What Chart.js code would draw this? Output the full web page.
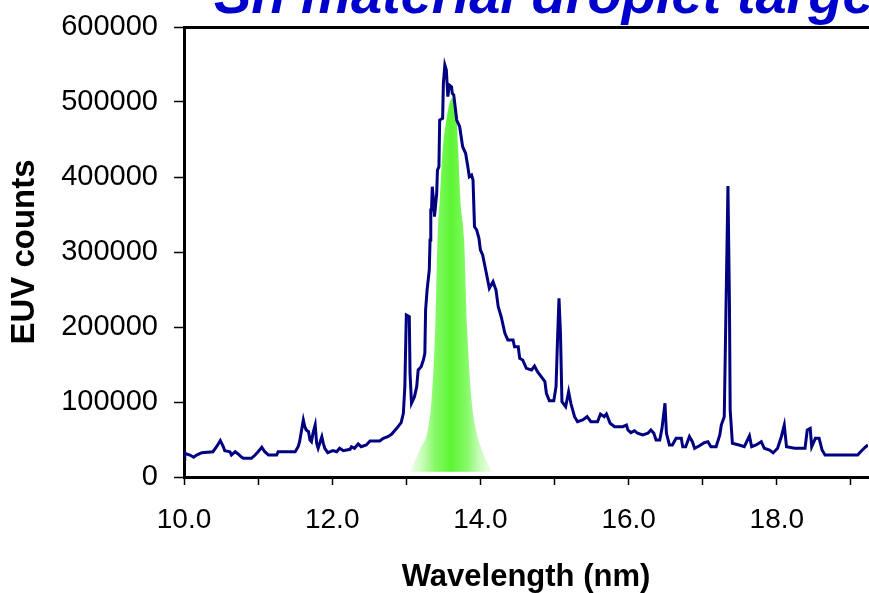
<!DOCTYPE html>
<html>
<head>
<meta charset="utf-8">
<script src="https://cdn.jsdelivr.net/npm/chart.js@4.4.0/dist/chart.umd.min.js"></script>
<style>
  html, body { margin: 0; padding: 0; background: #fff; overflow: hidden; }
  #wrap { width: 869px; height: 593px; position: relative; }
</style>
</head>
<body>
<div id="wrap"><canvas id="chart" width="869" height="593"></canvas></div>
<script>
const chartTitle = 'Sn material droplet target';
const xTitle = 'Wavelength (nm)';
const yTitle = 'EUV counts';

// EUV spectrum (nm, counts)
const wavelength = [
  10.00, 10.01, 10.08, 10.13, 10.17, 10.24, 10.39, 10.44, 10.49, 10.53,
  10.55, 10.62, 10.64, 10.69, 10.73, 10.78, 10.80, 10.91, 10.96, 11.00,
  11.05, 11.09, 11.14, 11.25, 11.27, 11.50, 11.54, 11.56, 11.61, 11.63,
  11.65, 11.68, 11.70, 11.72, 11.74, 11.77, 11.79, 11.81, 11.86, 11.88,
  11.90, 11.94, 12.01, 12.06, 12.10, 12.15, 12.24, 12.26, 12.30, 12.35,
  12.39, 12.46, 12.51, 12.64, 12.69, 12.75, 12.80, 12.87, 12.93, 12.96,
  12.98, 13.00, 13.04, 13.05, 13.07, 13.11, 13.14, 13.16, 13.20, 13.23,
  13.25, 13.26, 13.28, 13.31, 13.32, 13.33, 13.34, 13.35, 13.37, 13.38,
  13.41, 13.42, 13.44, 13.45, 13.49, 13.50, 13.52, 13.54, 13.56, 13.58,
  13.61, 13.62, 13.64, 13.68, 13.72, 13.76, 13.80, 13.83, 13.85, 13.88,
  13.90, 13.92, 13.95, 13.98, 14.00, 14.03, 14.08, 14.12, 14.17, 14.21,
  14.24, 14.28, 14.33, 14.37, 14.44, 14.46, 14.51, 14.53, 14.57, 14.62,
  14.69, 14.73, 14.77, 14.82, 14.87, 14.89, 14.93, 14.99, 15.02, 15.04,
  15.06, 15.08, 15.10, 15.15, 15.19, 15.22, 15.27, 15.31, 15.38, 15.44,
  15.49, 15.58, 15.62, 15.67, 15.70, 15.75, 15.81, 15.92, 15.97, 15.99,
  16.03, 16.08, 16.12, 16.19, 16.26, 16.30, 16.34, 16.37, 16.42, 16.45,
  16.49, 16.51, 16.55, 16.59, 16.64, 16.71, 16.73, 16.77, 16.82, 16.86,
  16.89, 16.95, 17.02, 17.07, 17.11, 17.18, 17.23, 17.25, 17.29, 17.34,
  17.36, 17.37, 17.40, 17.49, 17.56, 17.63, 17.66, 17.72, 17.79, 17.83,
  17.90, 17.95, 18.01, 18.06, 18.10, 18.13, 18.24, 18.38, 18.41, 18.45,
  18.47, 18.52, 18.57, 18.61, 18.65, 19.09, 19.13, 19.20, 19.23
];
const counts = [
  34000, 31600, 29300, 26300, 29300, 32400, 33700, 40400, 48400, 40400,
  35100, 33700, 29300, 33700, 30700, 26300, 24900, 24900, 29300, 33700,
  39600, 33700, 29300, 29300, 33700, 33700, 40400, 47100, 76000, 67100,
  62700, 60400, 49300, 47100, 58300, 69300, 44900, 38300, 53700, 44900,
  38300, 32400, 35100, 33700, 38300, 35100, 36900, 40400, 38300, 44000,
  40400, 42700, 48000, 48000, 51600, 53700, 56900, 64900, 72400, 84900,
  120400, 216000, 213700, 138300, 98300, 107100, 120400, 142700, 147100, 156000,
  164900, 222700, 249300, 276000, 316000, 356000, 356000, 387100, 364900, 347100,
  378300, 409300, 413700, 476000, 478300, 524900, 549300, 542700, 507100, 522700,
  520400, 511600, 509300, 476000, 467100, 440400, 431600, 413700, 400400, 402700,
  396000, 333700, 329300, 318200, 302700, 296000, 271600, 251600, 260400, 249300,
  227100, 213700, 191600, 182700, 182700, 173700, 173700, 158300, 156000, 144900,
  142700, 148000, 140400, 133700, 127100, 111600, 101700, 101700, 120400, 182700,
  238300, 191600, 100400, 93700, 113700, 98300, 80400, 73700, 76000, 80400,
  73700, 73700, 84000, 80400, 84000, 71600, 67100, 67100, 69300, 62700,
  59100, 61700, 58300, 56000, 58300, 62700, 58300, 49300, 49300, 64900,
  98300, 58300, 42700, 42700, 51600, 51600, 40400, 40400, 54000, 47100,
  38300, 41300, 45700, 47100, 40400, 40400, 56000, 69300, 80400, 388000,
  231600, 89300, 44900, 42700, 40400, 54700, 40400, 42700, 47100, 38300,
  36000, 32400, 38300, 53700, 69300, 40400, 38300, 38300, 62700, 64900,
  40400, 51600, 51600, 36000, 29300, 29300, 33700, 40400, 42700
];

// green in-band shape (13.5 nm band)
const bandWavelength = [13.05, 13.18, 13.29, 13.34, 13.39, 13.42, 13.45, 13.49, 13.54, 13.58, 13.62,
  13.66, 13.68, 13.70, 13.73, 13.78, 13.82, 13.88, 13.94, 14.02, 14.15];
const bandCounts = [7000, 36000, 63000, 103000, 200000, 316000, 369000, 436000, 476000, 497000, 505000,
  495000, 476000, 436000, 369000, 316000, 200000, 103000, 63000, 36000, 7000];
const bandBase = 7000;

const xMin = 10, xMax = 19.23;
const xTicks = [10, 11, 12, 13, 14, 15, 16, 17, 18, 19];
const yTicks = [0, 100000, 200000, 300000, 400000, 500000, 600000];

const FONT = '"Liberation Sans", Arial, sans-serif';

function bandGradient(context) {
  const chart = context.chart;
  const { ctx, chartArea, scales } = chart;
  if (!chartArea) return 'rgba(90,246,50,0.8)';
  const x0 = scales.x.getPixelForValue(bandWavelength[0]);
  const x1 = scales.x.getPixelForValue(bandWavelength[bandWavelength.length - 1]);
  const g = ctx.createLinearGradient(x0, 0, x1, 0);
  g.addColorStop(0, 'rgba(235,255,230,0.9)');
  g.addColorStop(0.15, 'rgb(200,252,185)');
  g.addColorStop(0.3, 'rgb(135,249,105)');
  g.addColorStop(0.5, 'rgb(92,245,52)');
  g.addColorStop(0.7, 'rgb(135,249,105)');
  g.addColorStop(0.85, 'rgb(200,252,185)');
  g.addColorStop(1, 'rgba(235,255,230,0.9)');
  return g;
}

// big slide title, cut by the top edge
const slideTitle = {
  id: 'slideTitle',
  afterDraw(chart) {
    const ctx = chart.ctx;
    ctx.save();
    ctx.font = 'italic bold 56px ' + FONT;
    ctx.fillStyle = '#0000CD';
    ctx.textBaseline = 'alphabetic';
    ctx.fillText(chartTitle, 214, 13);
    ctx.restore();
  }
};

new Chart(document.getElementById('chart'), {
  type: 'line',
  data: {
    datasets: [
      {
        label: 'Spectrum',
        data: wavelength.map((w, i) => ({ x: w, y: counts[i] })),
        borderColor: '#000080',
        borderWidth: 3,
        pointRadius: 0,
        tension: 0,
        fill: false,
        order: 0
      },
      {
        label: 'In-band',
        data: bandWavelength.map((w, i) => ({ x: w, y: bandCounts[i] })),
        borderWidth: 0,
        borderColor: 'rgba(0,0,0,0)',
        backgroundColor: bandGradient,
        pointRadius: 0,
        cubicInterpolationMode: 'monotone',
        fill: { value: bandBase },
        order: 1
      }
    ]
  },
  options: {
    responsive: false,
    animation: false,
    layout: { padding: 0 },
    plugins: {
      legend: { display: false },
      tooltip: { enabled: false }
    },
    scales: {
      x: {
        type: 'linear',
        position: 'bottom',
        min: xMin,
        max: xMax,
        afterBuildTicks: axis => { axis.ticks = xTicks.map(v => ({ value: v })); },
        afterFit: axis => { axis.height = 116; },
        ticks: {
          autoSkip: false,
          maxRotation: 0,
          color: '#000',
          padding: 18,
          font: { family: FONT, size: 28 },
          callback: v => (v % 2 === 0 ? v.toFixed(1) : '')
        },
        grid: { drawOnChartArea: false, drawTicks: true, tickLength: 8, tickColor: '#000', tickWidth: 1.5 },
        border: { display: true, color: '#000', width: 3 },
        title: {
          display: true,
          text: xTitle,
          color: '#000',
          font: { family: FONT, size: 31, weight: 'bold', lineHeight: 1 },
          padding: { top: 0, bottom: 0 }
        }
      },
      x2: {
        type: 'linear',
        position: 'top',
        min: xMin,
        max: xMax,
        afterFit: axis => { axis.height = 27; },
        ticks: { display: false },
        grid: { drawOnChartArea: false, drawTicks: false },
        border: { display: true, color: '#000', width: 3 }
      },
      y: {
        type: 'linear',
        position: 'left',
        min: 0,
        max: 600000,
        afterBuildTicks: axis => { axis.ticks = yTicks.map(v => ({ value: v })); },
        afterFit: axis => {
          axis.width = 184;
          axis.paddingTop = 0;
          axis.paddingBottom = 0;
        },
        ticks: {
          color: '#000',
          padding: 16,
          font: { family: FONT, size: 29 },
          callback: v => String(v)
        },
        grid: { drawOnChartArea: false, drawTicks: true, tickLength: 10, tickColor: '#000', tickWidth: 1.5 },
        border: { display: true, color: '#000', width: 3 },
        title: {
          display: true,
          text: yTitle,
          color: '#000',
          font: { family: FONT, size: 33, weight: 'bold', lineHeight: 1 },
          padding: { top: 8, bottom: 0 }
        }
      }
    }
  },
  plugins: [slideTitle]
});
</script>
</body>
</html>
